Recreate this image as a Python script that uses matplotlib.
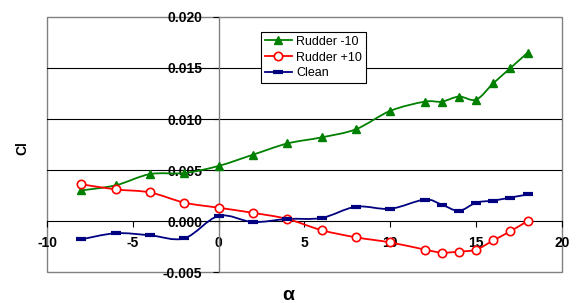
import matplotlib
matplotlib.use("Agg")
import matplotlib.pyplot as plt
from matplotlib.path import Path
from matplotlib.patches import PathPatch, Rectangle
from matplotlib.lines import Line2D
import numpy as np

plt.rcParams["font.family"] = ["Liberation Sans", "DejaVu Sans"]
plt.rcParams["axes.unicode_minus"] = False

# angle of attack
alpha = [-8, -6, -4, -2, 0, 2, 4, 6, 8, 10, 12, 13, 14, 15, 16, 17, 18]

# Cl values
cl_rudder_m10 = [0.0030, 0.0035, 0.0046, 0.0047, 0.0054, 0.0065, 0.0076, 0.0082, 0.0090,
                 0.0108, 0.0117, 0.0117, 0.0122, 0.0119, 0.0135, 0.0150, 0.0165]
cl_rudder_p10 = [0.0036, 0.0031, 0.0028, 0.0018, 0.0013, 0.0008, 0.0002, -0.0009, -0.0016,
                 -0.0021, -0.0028, -0.0031, -0.0030, -0.0028, -0.0019, -0.0010, 0.0000]
cl_clean = [-0.0018, -0.0012, -0.0014, -0.0017, 0.0005, -0.0001, 0.0002, 0.0003, 0.0014,
            0.0012, 0.0021, 0.0016, 0.0010, 0.0018, 0.0020, 0.0023, 0.0026]


def smooth_path(x, y):
    # catmull-rom style bezier through the points (like excel smoothed lines)
    p = np.column_stack([x, y]).astype(float)
    n = len(p)
    verts = [p[0]]
    codes = [Path.MOVETO]
    for i in range(n - 1):
        p0 = p[i - 1] if i > 0 else p[i]
        p3 = p[i + 2] if i + 2 < n else p[i + 1]
        c1 = p[i] + (p[i + 1] - p0) / 6
        c2 = p[i + 1] - (p3 - p[i]) / 6
        verts += [c1, c2, p[i + 1]]
        codes += [Path.CURVE4] * 3
    return Path(verts, codes)


fig = plt.figure(figsize=(5.79, 3.03), dpi=100)
ax = fig.add_axes([0.0812, 0.1023, 0.8894, 0.8416])

series = [
    (cl_rudder_m10, "#008000", dict(marker="^", markersize=6, markerfacecolor="#008000",
                                     markeredgecolor="#008000"), "Rudder -10"),
    (cl_rudder_p10, "#ff0000", dict(marker="o", markersize=6, markerfacecolor="white",
                                     markeredgecolor="#ff0000", markeredgewidth=1.2), "Rudder +10"),
    (cl_clean, "#000080", dict(marker="_", markersize=7, markeredgewidth=3,
                               markeredgecolor="#000080"), "Clean"),
]

handles = []
for vals, col, mk, lab in series:
    ax.add_patch(PathPatch(smooth_path(alpha, vals), fill=False, edgecolor=col, lw=1.3, zorder=3))
    ax.plot(alpha, vals, linestyle="none", zorder=4, **mk)
    handles.append(Line2D([], [], color=col, lw=1.3, **mk))

ax.set_xlim(-10, 20)
ax.set_ylim(-0.005, 0.020)
ax.set_xticks([-10, -5, 0, 5, 10, 15, 20])
ax.set_yticks([-0.005, 0.0, 0.005, 0.010, 0.015, 0.020])
ax.set_yticklabels(["-0.005", "0.000", "0.005", "0.010", "0.015", "0.020"])

for y in [0.005, 0.010, 0.015]:
    ax.axhline(y, color="black", lw=0.8, zorder=1)

# axes through the origin
ax.spines["left"].set_position(("data", 0))
ax.spines["bottom"].set_position(("data", 0))
ax.spines["left"].set_color("#808080")
ax.spines["bottom"].set_color("black")
ax.spines["left"].set_linewidth(1.0)
ax.spines["bottom"].set_linewidth(0.8)
ax.spines["top"].set_visible(False)
ax.spines["right"].set_visible(False)
ax.add_patch(Rectangle((0, 0), 1, 1, transform=ax.transAxes, fill=False,
                       edgecolor="#808080", lw=1.0, zorder=0.5, clip_on=False))

ax.tick_params(axis="both", direction="out", length=4, width=0.8, color="black",
               labelsize=10, pad=7)
ax.tick_params(axis="y", pad=8)
for t in ax.get_xticklabels() + ax.get_yticklabels():
    t.set_fontweight("bold")

# axis titles placed like the excel chart
fig.text(288 / 579, 3 / 303, "α", fontsize=14, fontweight="bold", ha="center", va="baseline")
fig.text(22.5 / 579, 1 - 148 / 303, "Cl", fontsize=10, fontweight="bold", rotation=90,
         ha="center", va="center")

leg = ax.legend(handles, ["Rudder -10", "Rudder +10", "Clean"], loc="upper left",
                bbox_to_anchor=(0.4155, 0.941), borderaxespad=0, fancybox=False,
                edgecolor="black", framealpha=1, fontsize=9, handlelength=2.2,
                handletextpad=0.3, labelspacing=0.3, borderpad=0.3)
leg.get_frame().set_linewidth(0.8)

fig.savefig("out.png", dpi=100)
